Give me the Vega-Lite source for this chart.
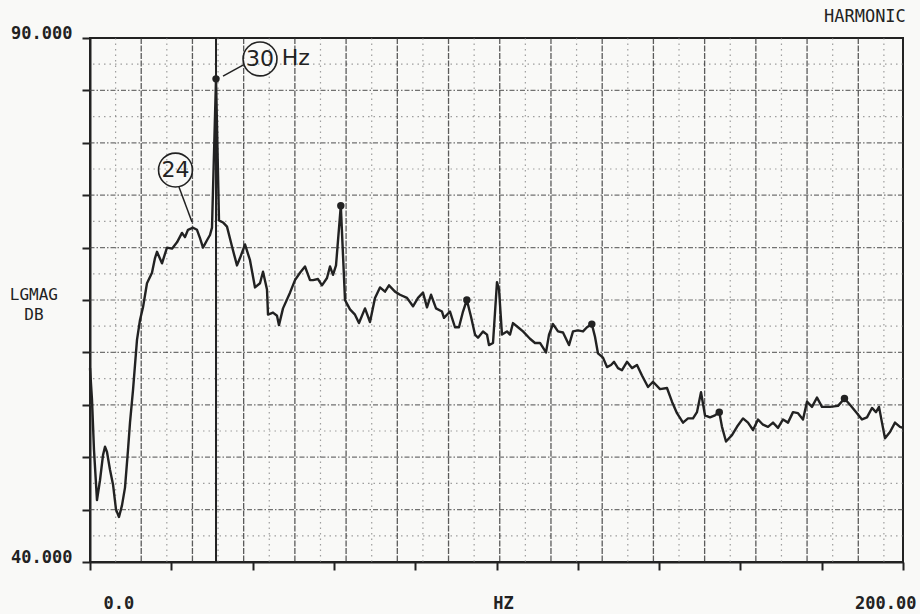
{
  "$schema": "https://vega.github.io/schema/vega-lite/v6.json",
  "width": 813,
  "height": 524,
  "autosize": {"type": "none"},
  "padding": {"left": 90, "top": 38, "right": 17, "bottom": 52},
  "background": "#f9f9f7",
  "config": {
    "view": {"stroke": "#222", "strokeWidth": 2},
    "axis": {"grid": false, "domainColor": "#222", "domainWidth": 2, "tickColor": "#222", "tickWidth": 2, "labelFont": "DejaVu Sans Mono", "titleFont": "DejaVu Sans Mono", "labelColor": "#222", "titleColor": "#222"}
  },
  "datasets": {
    "spectrum": [
      {"hz":0.0,"db":58.5},{"hz":0.49,"db":55.5},{"hz":0.98,"db":50.7},{"hz":1.72,"db":45.9},{"hz":2.46,"db":47.8},{"hz":3.2,"db":50.2},{"hz":3.69,"db":51.0},{"hz":4.18,"db":50.5},{"hz":4.92,"db":48.8},{"hz":5.66,"db":47.4},{"hz":6.4,"db":45.0},{"hz":7.13,"db":44.3},{"hz":7.87,"db":45.4},{"hz":8.61,"db":47.1},{"hz":9.35,"db":50.7},{"hz":9.84,"db":53.3},{"hz":10.58,"db":56.4},{"hz":11.56,"db":61.2},{"hz":12.3,"db":63.1},{"hz":13.04,"db":64.3},{"hz":14.02,"db":66.6},{"hz":15.25,"db":67.6},{"hz":15.99,"db":69.0},{"hz":16.48,"db":69.6},{"hz":17.71,"db":68.5},{"hz":18.94,"db":70.0},{"hz":20.17,"db":69.9},{"hz":21.4,"db":70.5},{"hz":22.63,"db":71.4},{"hz":23.37,"db":71.0},{"hz":24.11,"db":71.7},{"hz":25.34,"db":71.9},{"hz":26.32,"db":71.7},{"hz":27.06,"db":70.9},{"hz":27.8,"db":70.0},{"hz":28.78,"db":70.7},{"hz":29.52,"db":71.2},{"hz":30.01,"db":71.9},{"hz":31.0,"db":86.1},{"hz":31.73,"db":72.6},{"hz":32.72,"db":72.4},{"hz":33.7,"db":72.0},{"hz":34.93,"db":70.1},{"hz":36.16,"db":68.3},{"hz":36.9,"db":69.0},{"hz":38.13,"db":70.3},{"hz":39.36,"db":68.8},{"hz":40.59,"db":66.2},{"hz":41.82,"db":66.6},{"hz":42.56,"db":67.7},{"hz":43.54,"db":66.0},{"hz":43.79,"db":63.6},{"hz":45.02,"db":63.8},{"hz":46.0,"db":63.5},{"hz":46.49,"db":62.6},{"hz":47.48,"db":64.2},{"hz":49.2,"db":65.7},{"hz":50.43,"db":66.9},{"hz":51.66,"db":67.6},{"hz":52.89,"db":68.2},{"hz":54.12,"db":66.9},{"hz":54.86,"db":66.9},{"hz":56.09,"db":67.0},{"hz":57.07,"db":66.4},{"hz":58.3,"db":67.1},{"hz":59.04,"db":68.2},{"hz":59.78,"db":67.4},{"hz":60.52,"db":68.3},{"hz":61.7,"db":74.0},{"hz":62.73,"db":65.0},{"hz":63.96,"db":64.1},{"hz":65.19,"db":63.6},{"hz":66.17,"db":62.8},{"hz":67.65,"db":64.2},{"hz":68.88,"db":62.9},{"hz":70.11,"db":65.2},{"hz":71.34,"db":66.2},{"hz":72.57,"db":65.8},{"hz":73.55,"db":66.4},{"hz":75.03,"db":65.8},{"hz":76.26,"db":65.5},{"hz":77.98,"db":65.2},{"hz":79.46,"db":64.4},{"hz":80.69,"db":65.2},{"hz":81.92,"db":65.7},{"hz":82.9,"db":64.3},{"hz":83.89,"db":65.5},{"hz":85.12,"db":64.2},{"hz":86.59,"db":63.9},{"hz":87.08,"db":63.3},{"hz":88.56,"db":63.9},{"hz":89.79,"db":62.4},{"hz":90.77,"db":62.4},{"hz":91.76,"db":63.9},{"hz":92.7,"db":65.0},{"hz":93.73,"db":63.4},{"hz":94.71,"db":61.7},{"hz":95.45,"db":61.4},{"hz":96.68,"db":62.0},{"hz":97.66,"db":61.7},{"hz":98.15,"db":60.7},{"hz":99.14,"db":60.9},{"hz":100.12,"db":66.7},{"hz":100.62,"db":66.0},{"hz":101.35,"db":61.7},{"hz":102.58,"db":62.0},{"hz":103.32,"db":61.7},{"hz":104.06,"db":62.8},{"hz":105.29,"db":62.4},{"hz":106.52,"db":62.0},{"hz":108.24,"db":61.3},{"hz":109.47,"db":60.9},{"hz":110.7,"db":60.9},{"hz":112.18,"db":60.0},{"hz":112.92,"db":61.7},{"hz":113.9,"db":62.7},{"hz":115.13,"db":62.0},{"hz":116.36,"db":61.9},{"hz":117.84,"db":60.7},{"hz":118.82,"db":62.0},{"hz":120.05,"db":62.1},{"hz":121.28,"db":62.0},{"hz":122.26,"db":62.4},{"hz":123.45,"db":62.7},{"hz":124.23,"db":61.5},{"hz":124.97,"db":59.9},{"hz":126.2,"db":59.5},{"hz":127.18,"db":58.6},{"hz":128.17,"db":58.8},{"hz":128.91,"db":59.1},{"hz":129.89,"db":58.5},{"hz":130.87,"db":58.3},{"hz":132.1,"db":59.1},{"hz":133.33,"db":58.5},{"hz":134.56,"db":58.8},{"hz":135.79,"db":57.8},{"hz":137.27,"db":56.7},{"hz":138.5,"db":57.2},{"hz":140.22,"db":56.5},{"hz":141.94,"db":56.6},{"hz":143.17,"db":55.3},{"hz":144.4,"db":54.2},{"hz":145.88,"db":53.3},{"hz":147.11,"db":53.7},{"hz":148.34,"db":53.7},{"hz":149.32,"db":54.3},{"hz":150.31,"db":56.2},{"hz":151.29,"db":54.0},{"hz":152.52,"db":53.8},{"hz":153.75,"db":54.0},{"hz":154.8,"db":54.3},{"hz":155.47,"db":52.9},{"hz":156.46,"db":51.5},{"hz":157.93,"db":52.1},{"hz":159.16,"db":52.9},{"hz":160.64,"db":53.7},{"hz":161.87,"db":53.3},{"hz":163.1,"db":52.6},{"hz":164.33,"db":53.6},{"hz":165.56,"db":53.1},{"hz":166.79,"db":52.9},{"hz":168.02,"db":53.3},{"hz":169.25,"db":52.8},{"hz":170.48,"db":53.6},{"hz":171.71,"db":53.3},{"hz":172.94,"db":54.3},{"hz":174.17,"db":54.2},{"hz":175.4,"db":53.6},{"hz":176.38,"db":55.3},{"hz":177.61,"db":54.8},{"hz":178.84,"db":55.7},{"hz":180.07,"db":54.8},{"hz":182.04,"db":54.8},{"hz":184.01,"db":54.9},{"hz":185.6,"db":55.6},{"hz":186.96,"db":55.0},{"hz":188.68,"db":54.2},{"hz":189.91,"db":53.6},{"hz":191.14,"db":53.8},{"hz":192.37,"db":54.7},{"hz":193.36,"db":54.3},{"hz":194.1,"db":54.8},{"hz":194.83,"db":53.3},{"hz":195.57,"db":51.8},{"hz":196.8,"db":52.4},{"hz":198.03,"db":53.3},{"hz":199.26,"db":52.9},{"hz":200.0,"db":52.8}
    ],
    "peaks": [
      {"hz":31.0,"db":86.1},{"hz":61.7,"db":74.0},{"hz":92.7,"db":65.0},{"hz":123.45,"db":62.7},{"hz":154.8,"db":54.3},{"hz":185.6,"db":55.6}
    ],
    "marker": [{"hz":31.0}],
    "majorX": [{"hz":12.6},{"hz":25.2},{"hz":37.8},{"hz":50.4},{"hz":63.0},{"hz":75.6},{"hz":88.2},{"hz":100.8},{"hz":113.4},{"hz":126.0},{"hz":138.6},{"hz":151.2},{"hz":163.8},{"hz":176.4},{"hz":189.0}],
    "minorX": [{"hz":6.3},{"hz":18.9},{"hz":31.5},{"hz":44.1},{"hz":56.7},{"hz":69.3},{"hz":81.9},{"hz":94.5},{"hz":107.1},{"hz":119.7},{"hz":132.3},{"hz":144.9},{"hz":157.5},{"hz":170.1},{"hz":182.7},{"hz":195.3}],
    "majorY": [{"db":45},{"db":50},{"db":55},{"db":60},{"db":65},{"db":70},{"db":75},{"db":80},{"db":85}],
    "minorY": [{"db":42.5},{"db":47.5},{"db":52.5},{"db":57.5},{"db":62.5},{"db":67.5},{"db":72.5},{"db":77.5},{"db":82.5},{"db":87.5}],
    "leaders": [
      {"hz":32.72,"db":86.37,"hz2":37.64,"db2":87.42},
      {"hz":21.89,"db":75.78,"hz2":25.09,"db2":72.44}
    ],
    "circles": [
      {"hz":41.82,"db":88.0},
      {"hz":21.03,"db":77.4}
    ],
    "notes": [
      {"hz":41.82,"db":88.0,"label":"30","style":"normal"},
      {"hz":21.03,"db":77.4,"label":"24","style":"normal"},
      {"hz":50.6,"db":88.05,"label":"Hz","style":"italic"}
    ],
    "header": [{"hz":200.7,"db":91.55,"label":"HARMONIC"}],
    "ytitle": [{"hz":-13.8,"db":65.45,"label":"LGMAG"},{"hz":-13.8,"db":63.6,"label":"DB"}]
  },
  "layer": [
    {
      "data": {"name": "minorX"},
      "mark": {"type": "rule", "color": "#777", "strokeWidth": 1.2, "strokeDash": [1.5, 4], "opacity": 0.7},
      "encoding": {"x": {"field": "hz", "type": "quantitative", "scale": {"domain": [0, 200], "nice": false, "zero": false}}}
    },
    {
      "data": {"name": "minorY"},
      "mark": {"type": "rule", "color": "#777", "strokeWidth": 1.2, "strokeDash": [1.5, 4], "opacity": 0.7},
      "encoding": {"y": {"field": "db", "type": "quantitative", "scale": {"domain": [40, 90], "nice": false, "zero": false}}}
    },
    {
      "data": {"name": "majorX"},
      "mark": {"type": "rule", "color": "#333", "strokeWidth": 1.3, "strokeDash": [6, 1.5], "opacity": 0.8},
      "encoding": {"x": {"field": "hz", "type": "quantitative", "scale": {"domain": [0, 200], "nice": false, "zero": false}}}
    },
    {
      "data": {"name": "majorY"},
      "mark": {"type": "rule", "color": "#444", "strokeWidth": 1.2, "strokeDash": [5, 2, 1.5, 2], "opacity": 0.75},
      "encoding": {"y": {"field": "db", "type": "quantitative", "scale": {"domain": [40, 90], "nice": false, "zero": false}}}
    },
    {
      "data": {"name": "marker"},
      "mark": {"type": "rule", "color": "#222", "strokeWidth": 2},
      "encoding": {"x": {"field": "hz", "type": "quantitative", "scale": {"domain": [0, 200], "nice": false, "zero": false}}}
    },
    {
      "data": {"name": "spectrum"},
      "mark": {"type": "line", "color": "#222", "strokeWidth": 2.4, "strokeJoin": "round"},
      "encoding": {
        "x": {"field": "hz", "type": "quantitative", "scale": {"domain": [0, 200], "nice": false, "zero": false},
          "axis": {"values": [0, 20, 40, 60, 80, 100, 120, 140, 160, 180, 200], "tickSize": 8, "labelExpr": "datum.value == 0 ? '0.0' : datum.value == 200 ? '200.00' : ''", "labelFlush": true, "labelOverlap": false, "labelOffset": 13, "labelBaseline": "alphabetic", "labelPadding": 38, "labelFontSize": 17, "labelFontWeight": "bold", "title": "HZ", "titleX": 413, "titleY": 46, "titleBaseline": "alphabetic", "titleAlign": "center", "titleFontSize": 17, "titleFontWeight": "bold"}},
        "y": {"field": "db", "type": "quantitative", "scale": {"domain": [40, 90], "nice": false, "zero": false},
          "axis": {"values": [40, 45, 50, 55, 60, 65, 70, 75, 80, 85, 90], "tickSize": 8, "labelExpr": "datum.value == 90 ? '90.000' : datum.value == 40 ? '40.000' : ''", "labelFlush": false, "labelOverlap": false, "labelBaseline": "alphabetic", "labelPadding": 10, "labelFontSize": 17, "labelFontWeight": "bold", "title": null}}
      }
    },
    {
      "data": {"name": "peaks"},
      "mark": {"type": "point", "filled": true, "color": "#222", "size": 55, "opacity": 1},
      "encoding": {
        "x": {"field": "hz", "type": "quantitative", "scale": {"domain": [0, 200], "nice": false, "zero": false}},
        "y": {"field": "db", "type": "quantitative", "scale": {"domain": [40, 90], "nice": false, "zero": false}}
      }
    },
    {
      "data": {"name": "leaders"},
      "mark": {"type": "rule", "color": "#222", "strokeWidth": 1.5},
      "encoding": {
        "x": {"field": "hz", "type": "quantitative", "scale": {"domain": [0, 200], "nice": false, "zero": false}},
        "y": {"field": "db", "type": "quantitative", "scale": {"domain": [40, 90], "nice": false, "zero": false}},
        "x2": {"field": "hz2"},
        "y2": {"field": "db2"}
      }
    },
    {
      "data": {"name": "circles"},
      "mark": {"type": "point", "shape": "circle", "filled": false, "stroke": "#222", "strokeWidth": 1.6, "size": 1150, "opacity": 1},
      "encoding": {
        "x": {"field": "hz", "type": "quantitative", "scale": {"domain": [0, 200], "nice": false, "zero": false}},
        "y": {"field": "db", "type": "quantitative", "scale": {"domain": [40, 90], "nice": false, "zero": false}}
      }
    },
    {
      "data": {"name": "notes"},
      "mark": {"type": "text", "font": "DejaVu Sans", "fontSize": 22, "color": "#222", "align": "center", "baseline": "middle"},
      "encoding": {
        "x": {"field": "hz", "type": "quantitative", "scale": {"domain": [0, 200], "nice": false, "zero": false}},
        "y": {"field": "db", "type": "quantitative", "scale": {"domain": [40, 90], "nice": false, "zero": false}},
        "text": {"field": "label"},
        "fontStyle": {"field": "style", "type": "nominal", "scale": null}
      }
    },
    {
      "data": {"name": "ytitle"},
      "mark": {"type": "text", "font": "DejaVu Sans Mono", "fontSize": 16, "color": "#222", "align": "center", "baseline": "middle"},
      "encoding": {
        "x": {"field": "hz", "type": "quantitative", "scale": {"domain": [0, 200], "nice": false, "zero": false}},
        "y": {"field": "db", "type": "quantitative", "scale": {"domain": [40, 90], "nice": false, "zero": false}},
        "text": {"field": "label"}
      }
    },
    {
      "data": {"name": "header"},
      "mark": {"type": "text", "font": "DejaVu Sans Mono", "fontSize": 17, "color": "#222", "align": "right", "baseline": "alphabetic"},
      "encoding": {
        "x": {"field": "hz", "type": "quantitative", "scale": {"domain": [0, 200], "nice": false, "zero": false}},
        "y": {"field": "db", "type": "quantitative", "scale": {"domain": [40, 90], "nice": false, "zero": false}},
        "text": {"field": "label"}
      }
    }
  ]
}
